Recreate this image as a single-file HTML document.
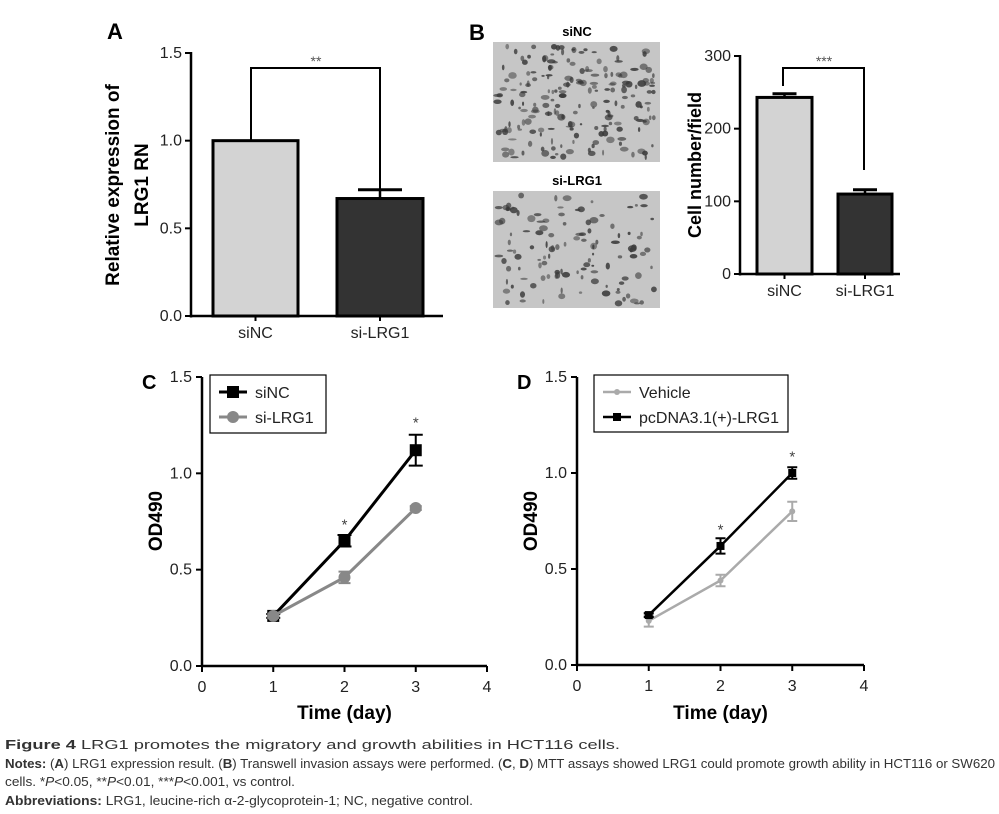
<!DOCTYPE html>
<html><head><meta charset="utf-8"><style>
body{margin:0;background:#fff}
svg{display:block;font-family:"Liberation Sans",Arial,sans-serif}
</style></head><body>
<svg id="fig" width="999" height="814" viewBox="0 0 999 814">
<g id="pA"></g>
<g id="pB"></g>
<g id="pC"></g>
<g id="pD"></g>
<g font-size="12.5" fill="#333">
<text x="5" y="749" textLength="615" lengthAdjust="spacingAndGlyphs"><tspan font-weight="bold">Figure 4</tspan> LRG1 promotes the migratory and growth abilities in HCT116 cells.</text>
<text x="5" y="768" textLength="990" lengthAdjust="spacingAndGlyphs"><tspan font-weight="bold">Notes:</tspan> (<tspan font-weight="bold">A</tspan>) LRG1 expression result. (<tspan font-weight="bold">B</tspan>) Transwell invasion assays were performed. (<tspan font-weight="bold">C</tspan>, <tspan font-weight="bold">D</tspan>) MTT assays showed LRG1 could promote growth ability in HCT116 or SW620</text>
<text x="5" y="786" textLength="290" lengthAdjust="spacingAndGlyphs">cells. *<tspan font-style="italic">P</tspan>&lt;0.05, **<tspan font-style="italic">P</tspan>&lt;0.01, ***<tspan font-style="italic">P</tspan>&lt;0.001, vs control.</text>
<text x="5" y="805" textLength="468" lengthAdjust="spacingAndGlyphs"><tspan font-weight="bold">Abbreviations:</tspan> LRG1, leucine-rich α-2-glycoprotein-1; NC, negative control.</text>
</g>
</svg>
<script>
const NS="http://www.w3.org/2000/svg";
// Panel A data
const aCats=["siNC","si-LRG1"];
const aVals=[1.0,0.67];
const aErr=[0,0.05];
const aTicks=[0,0.5,1.0,1.5];
// Panel B data
const bCats=["siNC","si-LRG1"];
const bVals=[243,110];
const bErr=[5,6];
const bTicks=[0,100,200,300];
// Panel C data
const cDays=[1,2,3];
const cSiNC=[0.26,0.65,1.12];
const cSiNCErr=[0.01,0.03,0.08];
const cSiLRG1=[0.26,0.46,0.82];
const cSiLRG1Err=[0.01,0.03,0.01];
// Panel D data
const dDays=[1,2,3];
const dVehicle=[0.23,0.44,0.80];
const dVehicleErr=[0.03,0.03,0.05];
const dPc=[0.26,0.62,1.00];
const dPcErr=[0.01,0.04,0.03];
const lineTicksY=[0,0.5,1.0,1.5];
const lineTicksX=[0,1,2,3,4];

function el(p,tag,attrs,txt){const e=document.createElementNS(NS,tag);for(const k in attrs)e.setAttribute(k,attrs[k]);if(txt!==undefined)e.textContent=txt;p.appendChild(e);return e;}
function lin(d0,d1,r0,r1){return v=>r0+(v-d0)/(d1-d0)*(r1-r0);}

function barPanel(g,cfg){
  const y=lin(0,cfg.max,cfg.y0,cfg.y1);
  const ax=el(g,'line',{x1:cfg.ax,y1:cfg.y1-1,x2:cfg.ax,y2:cfg.y0+1.5,stroke:'#000','stroke-width':2.5});
  
  const xa=el(g,'line',{x1:cfg.ax,y1:cfg.y0,x2:cfg.xend,y2:cfg.y0,stroke:'#000','stroke-width':2.5});
  
  cfg.ticks.forEach(t=>{
    el(g,'line',{x1:cfg.ax-6,x2:cfg.ax,y1:y(t),y2:y(t),stroke:'#000','stroke-width':2});
    const tl=el(g,'text',{x:cfg.ax-9,y:y(t)+5,'text-anchor':'end','font-size':16,fill:'#222'},cfg.tickFmt(t));
    
  });
  cfg.vals.forEach((v,i)=>{
    const [x0,x1]=cfg.bars[i];const cx=(x0+x1)/2;
    if(cfg.err[i]>0){
      el(g,'line',{x1:cx,x2:cx,y1:y(v),y2:y(v+cfg.err[i]),stroke:'#000','stroke-width':2.5});
      el(g,'line',{x1:cx-cfg.capw,x2:cx+cfg.capw,y1:y(v+cfg.err[i]),y2:y(v+cfg.err[i]),stroke:'#000','stroke-width':3});
    }
    const r=el(g,'rect',{x:x0,y:y(v),width:x1-x0,height:cfg.y0-y(v),fill:i==0?'#d3d3d3':'#333',stroke:'#000','stroke-width':3});
    
    const ct=el(g,'text',{x:cx,y:cfg.y0+22,'text-anchor':'middle','font-size':16,fill:'#222'},cfg.cats[i]);
    
    el(g,'line',{x1:cx,x2:cx,y1:cfg.y0,y2:cfg.y0+5,stroke:'#000','stroke-width':2});
  });
}

// Panel A
const pA=document.getElementById('pA');
barPanel(pA,{max:1.5,y0:316,y1:53,ax:191,xend:443,ticks:aTicks,tickFmt:t=>t.toFixed(1),vals:aVals,err:aErr,bars:[[213,298],[337,423]],cats:aCats,capw:22});
el(pA,'path',{d:'M251 141 V68 H380 V190',fill:'none',stroke:'#000','stroke-width':2});
el(pA,'text',{x:316,y:66,'text-anchor':'middle','font-size':14,fill:'#555'},'**');
let t=el(pA,'text',{x:107,y:39,'font-size':22,'font-weight':'bold'},'A');

t=el(pA,'text',{transform:'translate(119,185) rotate(-90)','text-anchor':'middle','font-size':19,'font-weight':'bold'},'Relative expression of');

el(pA,'text',{transform:'translate(148,185) rotate(-90)','text-anchor':'middle','font-size':19,'font-weight':'bold'},'LRG1 RN');

// Panel B
const pB=document.getElementById('pB');
t=el(pB,'text',{x:469,y:40,'font-size':22,'font-weight':'bold'},'B');

function micro(x,yy,w,h,seed,n,name){
  const gg=el(pB,'g',{});
  el(gg,'rect',{x:x,y:yy,width:w,height:h,fill:'#c6c6c6'});
  let s=seed;const rnd=()=>{s=(s*16807)%2147483647;return s/2147483647;};
  for(let i=0;i<n;i++){el(gg,'ellipse',{cx:x+4+rnd()*(w-8),cy:yy+4+rnd()*(h-8),rx:1+rnd()*3.5,ry:1+rnd()*2.5,fill:'#3a3a3a',opacity:0.5+rnd()*0.4});}
}
micro(493,42,167,120,12345,200,'micrograph-sinc');
micro(493,191,167,117,54321,120,'micrograph-si-lrg1');
el(pB,'text',{x:577,y:36,'text-anchor':'middle','font-size':13,'font-weight':'bold'},'siNC');
el(pB,'text',{x:577,y:185,'text-anchor':'middle','font-size':13,'font-weight':'bold'},'si-LRG1');
barPanel(pB,{max:300,y0:274,y1:56,ax:740,xend:900,ticks:bTicks,tickFmt:t=>String(t),vals:bVals,err:bErr,bars:[[757,812],[838,892]],cats:bCats,capw:12});
el(pB,'path',{d:'M783 86 V68 H864 V170',fill:'none',stroke:'#000','stroke-width':2});
el(pB,'text',{x:824,y:66,'text-anchor':'middle','font-size':14,fill:'#555'},'***');
t=el(pB,'text',{transform:'translate(701,165) rotate(-90)','text-anchor':'middle','font-size':18,'font-weight':'bold'},'Cell number/field');


// Line panels
function linePanel(g,cfg){
  const x=lin(0,4,cfg.ax,cfg.xend), y=lin(0,1.5,cfg.y0,cfg.y1);
  let a=el(g,'line',{x1:cfg.ax,y1:cfg.y1,x2:cfg.ax,y2:cfg.y0+1,stroke:'#000','stroke-width':2.5});
  
  a=el(g,'line',{x1:cfg.ax,y1:cfg.y0,x2:cfg.xend,y2:cfg.y0,stroke:'#000','stroke-width':2.5});
  
  lineTicksY.forEach(v=>{el(g,'line',{x1:cfg.ax-6,x2:cfg.ax,y1:y(v),y2:y(v),stroke:'#000','stroke-width':2});
    const tl=el(g,'text',{x:cfg.ax-10,y:y(v)+5,'text-anchor':'end','font-size':16,fill:'#222'},v.toFixed(1));
    });
  lineTicksX.forEach(v=>{el(g,'line',{x1:x(v),x2:x(v),y1:cfg.y0,y2:cfg.y0+6,stroke:'#000','stroke-width':2});
    const tl=el(g,'text',{x:x(v),y:cfg.y0+26,'text-anchor':'middle','font-size':16,fill:'#222'},String(v));
    });
  cfg.series.forEach(s=>{
    const pts=cfg.days.map((d,i)=>x(d)+','+y(s.v[i])).join(' ');
    const pl=el(g,'polyline',{points:pts,fill:'none',stroke:s.color,'stroke-width':s.w});
    
    cfg.days.forEach((d,i)=>{
      const cx=x(d),yt=y(s.v[i]+s.e[i]),yb=y(s.v[i]-s.e[i]);
      el(g,'path',{d:`M${cx} ${yt}V${yb}M${cx-s.cap} ${yt}H${cx+s.cap}M${cx-s.cap} ${yb}H${cx+s.cap}`,stroke:s.color,'stroke-width':2,fill:'none'});
      let m;
      if(s.shape=='sq') m=el(g,'rect',{x:cx-s.ms,y:y(s.v[i])-s.ms,width:2*s.ms,height:2*s.ms,fill:s.color});
      else m=el(g,'circle',{cx:cx,cy:y(s.v[i]),r:s.ms,fill:s.color});
      
    });
  });
  cfg.stars.forEach(i=>{const st=el(g,'text',{x:x(cfg.days[i]),y:y(cfg.starY[i])+6,'text-anchor':'middle','font-size':15,fill:'#444'},'*');
    });
  const lg=el(g,'g',{});
  el(lg,'rect',{x:cfg.lg[0],y:cfg.lg[1],width:cfg.lg[2],height:cfg.lg[3],fill:'#fff',stroke:'#000','stroke-width':1.2});
  cfg.series.forEach((s,i)=>{
    const ly=cfg.lg[1]+17+i*25;
    const e=el(lg,'g',{});
    el(e,'line',{x1:cfg.lg[0]+9,x2:cfg.lg[0]+37,y1:ly,y2:ly,stroke:s.color,'stroke-width':s.w});
    if(s.shape=='sq') el(e,'rect',{x:cfg.lg[0]+23-s.lms,y:ly-s.lms,width:2*s.lms,height:2*s.lms,fill:s.color});
    else el(e,'circle',{cx:cfg.lg[0]+23,cy:ly,r:s.lms,fill:s.color});
    el(e,'text',{x:cfg.lg[0]+45,y:ly+6,'font-size':16,fill:'#222'},s.label);
  });
  let tt=el(g,'text',{x:(cfg.ax+cfg.xend)/2,y:719,'text-anchor':'middle','font-size':19,'font-weight':'bold'},'Time (day)');
  
  tt=el(g,'text',{transform:`translate(${cfg.ax-40},521) rotate(-90)`,'text-anchor':'middle','font-size':19,'font-weight':'bold'},'OD490');
  
  tt=el(g,'text',{x:cfg.ax-60,y:cfg.y1+12,'font-size':20,'font-weight':'bold'},cfg.label);
  
}
linePanel(document.getElementById('pC'),{ax:202,xend:487,y0:666,y1:377,days:cDays,label:'C',lg:[210,375,116,58],
  series:[{name:'sinc',label:'siNC',v:cSiNC,e:cSiNCErr,color:'#000',w:3,shape:'sq',ms:6,lms:6,cap:7},
          {name:'si-lrg1',label:'si-LRG1',v:cSiLRG1,e:cSiLRG1Err,color:'#888',w:3,shape:'ci',ms:6,lms:6,cap:6}],
  stars:[1,2],starY:[0,0.74,1.27]});
linePanel(document.getElementById('pD'),{ax:577,xend:864,y0:665,y1:377,days:dDays,label:'D',lg:[594,375,194,57],
  series:[{name:'vehicle',label:'Vehicle',v:dVehicle,e:dVehicleErr,color:'#aaa',w:2.5,shape:'ci',ms:3,lms:3,cap:5},
          {name:'pcdna3-lrg1',label:'pcDNA3.1(+)-LRG1',v:dPc,e:dPcErr,color:'#000',w:2.5,shape:'sq',ms:4,lms:4,cap:5}],
  stars:[1,2],starY:[0,0.71,1.09]});
</script>
</body></html>
